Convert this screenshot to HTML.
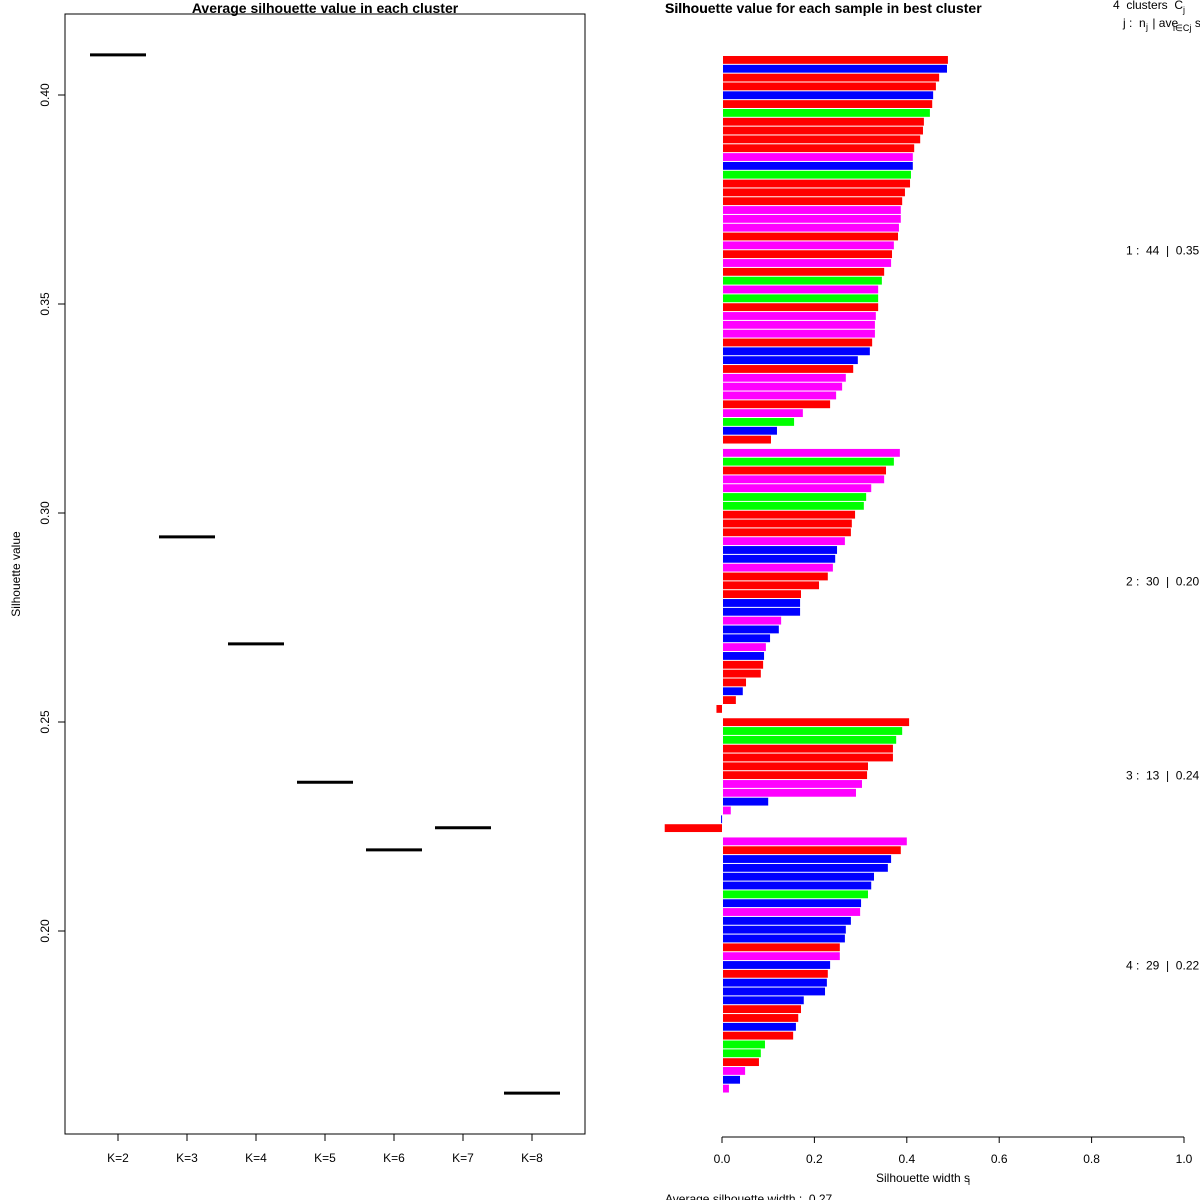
<!DOCTYPE html>
<html><head><meta charset="utf-8"><style>
html,body{margin:0;padding:0;background:#fff;}
svg{display:block;font-family:"Liberation Sans",sans-serif;}
text{white-space:pre;}
</style></head><body>
<svg id="chart" width="1200" height="1200" viewBox="0 0 1200 1200" xmlns="http://www.w3.org/2000/svg">
<rect width="1200" height="1200" fill="#fff"/>
<g id="left"></g>
<g id="right"></g>
</svg>
<script>
// Left panel data
const kLabels = ["K=2","K=3","K=4","K=5","K=6","K=7","K=8"];
const avgSil = [0.4096,0.2943,0.2687,0.2356,0.2194,0.2247,0.1612];
const yTicks = [0.20,0.25,0.30,0.35,0.40];
// Right panel data
const clusterSizes = [44,30,13,29];
const clusterAvg = ["0.35","0.20","0.24","0.22"];
const barColors = [
"R","B","R","R","B","R","G","R","R","R","R","M","B","G","R","R","R","M","M","M","R","M","R","M","R","G","M","G","R","M","M","M","R","B","B","R","M","M","M","R","M","G","B","R",
"M","G","R","M","M","G","G","R","R","R","M","B","B","M","R","R","R","B","B","M","B","B","M","B","R","R","R","B","R","R",
"R","G","G","R","R","R","R","M","M","B","M","B","R",
"M","R","B","B","B","B","G","B","M","B","B","B","R","M","B","R","B","B","B","R","R","B","R","G","G","R","M","B","M"];
const silValues = [
0.489,0.487,0.470,0.463,0.457,0.455,0.450,0.437,0.435,0.429,0.416,0.413,0.413,0.409,0.407,0.396,0.390,0.387,0.387,0.383,0.381,0.372,0.368,0.366,0.351,0.346,0.338,0.338,0.338,0.333,0.331,0.331,0.325,0.320,0.294,0.284,0.268,0.260,0.247,0.234,0.175,0.156,0.119,0.106,
0.385,0.372,0.355,0.351,0.323,0.312,0.307,0.288,0.281,0.279,0.266,0.249,0.245,0.240,0.229,0.210,0.171,0.169,0.169,0.128,0.123,0.104,0.095,0.091,0.089,0.084,0.052,0.045,0.030,-0.012,
0.405,0.390,0.377,0.370,0.370,0.316,0.314,0.303,0.290,0.100,0.019,-0.002,-0.124,
0.400,0.387,0.366,0.359,0.329,0.323,0.316,0.301,0.299,0.279,0.268,0.266,0.255,0.255,0.234,0.229,0.227,0.223,0.177,0.171,0.165,0.160,0.154,0.093,0.084,0.080,0.050,0.039,0.015];
const xTicks = [0,0.2,0.4,0.6,0.8,1.0];

const NS="http://www.w3.org/2000/svg";
function mk(parent,tag,attrs,text){const e=document.createElementNS(NS,tag);for(const k in attrs)e.setAttribute(k,attrs[k]);if(text!==undefined)e.textContent=text;parent.appendChild(e);return e;}
const colorMap={R:"#ff0000",B:"#0000ff",G:"#00ff00",M:"#ff00ff"};

// ---- Left panel
const L=document.getElementById('left');
const yL=v=>95+(0.40-v)/0.05*209;
const xL=i=>118+i*69;
let e;
e=mk(L,'rect',{x:65,y:14,width:520,height:1120,fill:'none',stroke:'#000','stroke-width':1});


e=mk(L,'text',{x:325,y:13,'text-anchor':'middle','font-size':14,'font-weight':'bold'},'Average silhouette value in each cluster');


yTicks.forEach(v=>{
  const y=yL(v);
  e=mk(L,'line',{x1:58,x2:65,y1:y,y2:y,stroke:'#000'});
  
  
  e=mk(L,'text',{x:0,y:0,transform:`translate(49,${y}) rotate(-90)`,'text-anchor':'middle','font-size':12},v.toFixed(2));
  
  
});
e=mk(L,'text',{x:0,y:0,transform:'translate(20,574) rotate(-90)','text-anchor':'middle','font-size':12},'Silhouette value');


kLabels.forEach((k,i)=>{
  const x=xL(i);
  e=mk(L,'line',{x1:x,x2:x,y1:1134,y2:1141,stroke:'#000'});
  
  
  e=mk(L,'text',{x:x,y:1162,'text-anchor':'middle','font-size':12},k);
  
  
  const y=yL(avgSil[i]);
  e=mk(L,'line',{x1:x-28,x2:x+28,y1:y,y2:y,stroke:'#000','stroke-width':3});
  
  
});

// ---- Right panel
const R=document.getElementById('right');
const x0=722, xs=462;
const xR=v=>x0+v*xs;
const pitch=8.83;
e=mk(R,'text',{x:665,y:13,'font-size':14,'font-weight':'bold'},'Silhouette value for each sample in best cluster');


e=mk(R,'text',{x:665,y:13,'font-size':14,'font-weight':'bold'},'Silhou');


e=mk(R,'text',{x:1113,y:9,'font-size':12},'4  clusters  C');


e=mk(R,'text',{x:1183,y:13,'font-size':9},'j');


e=mk(R,'text',{x:1123,y:27,'font-size':12},'j :  n  | ave     s');


e=mk(R,'text',{x:1146,y:30,'font-size':9},'j');


e=mk(R,'text',{x:1173,y:31,'font-size':9},'i∈Cj');



let idx=0, pos=0;
clusterSizes.forEach((n,c)=>{
  if(c>0) pos+=0.5;
  const startY=56+pos*pitch;
  for(let j=0;j<n;j++){
    const v=silValues[idx];
    const y=56+pos*pitch;
    const xa=Math.min(xR(0),xR(v)), w=Math.max(Math.abs(xR(v)-xR(0)),1);
    e=mk(R,'rect',{x:v<0?xa:xR(0)+1,y:y,width:v<0?w:Math.max(w-1,1),height:pitch-1,fill:colorMap[barColors[idx]]});
    
    
    idx++; pos+=1;
  }
  const midY=(startY+56+pos*pitch)/2;
  e=mk(R,'text',{x:1126,y:midY+4,'font-size':12},`${c+1} :  ${n}  |  ${clusterAvg[c]}`);
  
  
});

e=mk(R,'line',{x1:xR(0),x2:xR(1),y1:1137,y2:1137,stroke:'#000'});


xTicks.forEach(v=>{
  const x=xR(v);
  e=mk(R,'line',{x1:x,x2:x,y1:1137,y2:1143,stroke:'#000'});
  
  
  e=mk(R,'text',{x:x,y:1163,'text-anchor':'middle','font-size':12},v.toFixed(1));
  
  
});
e=mk(R,'text',{x:876,y:1182,'font-size':12},'Silhouette width s');


e=mk(R,'text',{x:968,y:1185,'font-size':9},'i');


e=mk(R,'text',{x:665,y:1203,'font-size':12},'Average silhouette width :  0.27');


</script>
</body></html>
